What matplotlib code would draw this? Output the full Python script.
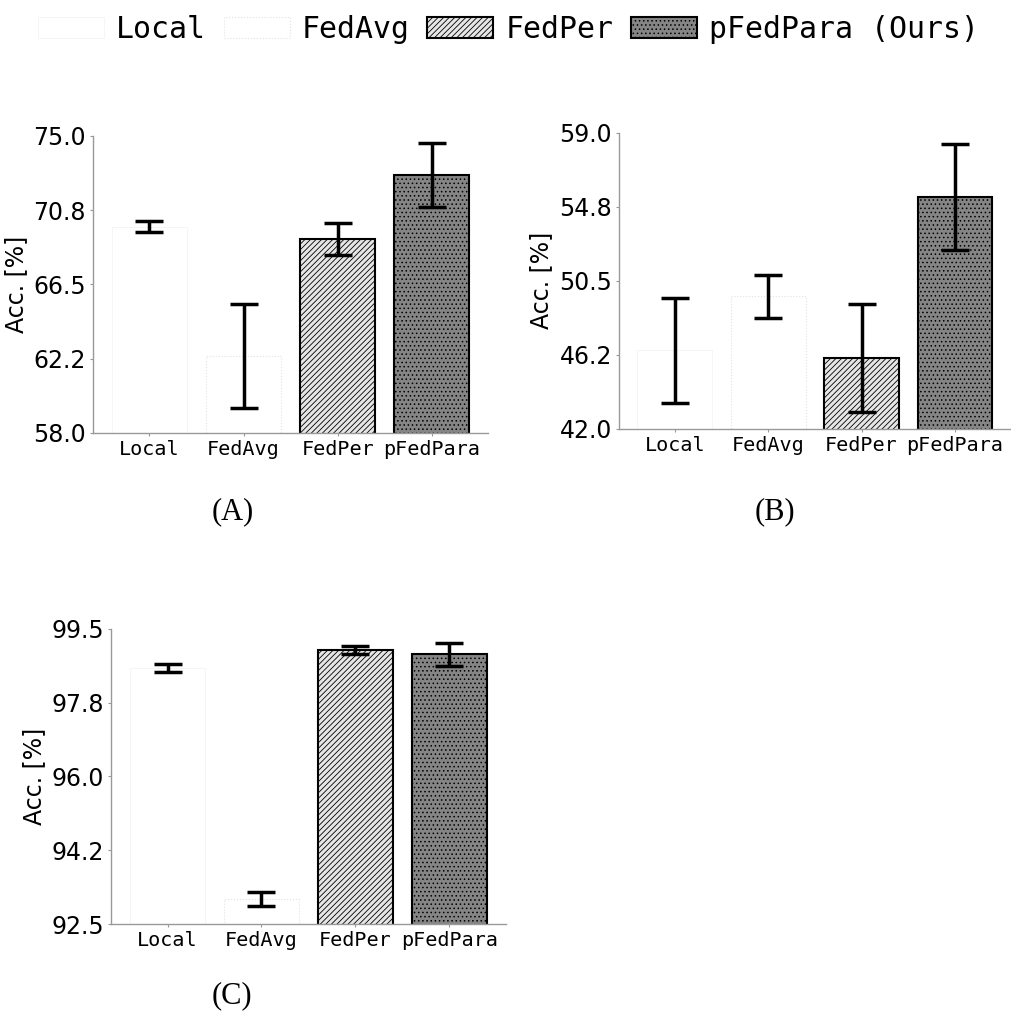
import matplotlib.pyplot as plt
from matplotlib.patches import Patch

# Datos
methods = ['Local', 'FedAvg', 'FedPer', 'pFedPara']
legend_labels = ['Local', 'FedAvg', 'FedPer', 'pFedPara (Ours)']

acc_a = [69.8, 62.4, 69.1, 72.75]
err_a = [0.3, 3.0, 0.9, 1.85]
acc_b = [46.5, 49.6, 46.05, 55.3]
err_b = [3.0, 1.25, 3.1, 3.05]
acc_c = [98.57, 93.1, 99.0, 98.9]
err_c = [0.1, 0.17, 0.1, 0.27]

ylim_a = (58.0, 75.0)
ylim_b = (42.0, 59.0)
ylim_c = (92.5, 99.5)

faces = ['white', 'white', '#e6e6e6', '#858585']
edges = ['#f4f4f4', '#e2e2e2', 'black', 'black']
hatches = ['', '', '//////', '....']
widths = [0.6, 0.8, 1.5, 1.5]
styles = ['-', ':', '-', '-']

plt.rcParams['hatch.linewidth'] = 0.6
plt.rcParams['hatch.color'] = '#555555'

fig = plt.figure(figsize=(10.11, 10.21), dpi=100)


def panel(rect, values, errors, ylim):
    ax = fig.add_axes(rect)
    x = range(len(methods))
    for i in x:
        ax.bar(i, values[i], width=0.8, color=faces[i], edgecolor=edges[i],
               hatch=hatches[i], linewidth=widths[i], linestyle=styles[i], zorder=2)
    ax.errorbar(list(x), values, yerr=errors, fmt='none', ecolor='black',
                elinewidth=2.5, capsize=10, capthick=2.5, zorder=3)
    ax.set_xlim(-0.6, 3.6)
    ax.set_ylim(*ylim)
    ticks = [ylim[0] + k * (ylim[1] - ylim[0]) / 4 for k in range(5)]
    ax.set_yticks(ticks)
    ax.set_yticklabels(['%.1f' % t for t in ticks], fontsize=17)
    ax.set_xticks(list(x))
    ax.set_xticklabels(methods, fontsize=14.5, family='DejaVu Sans Mono')
    ax.tick_params(length=2, color='#999999', pad=3)
    ax.set_ylabel('Acc. [%]', fontsize=17)
    for s in ['top', 'right']:
        ax.spines[s].set_visible(False)
    for s in ['left', 'bottom']:
        ax.spines[s].set_color('#999999')
        ax.spines[s].set_linewidth(1.0)
    return ax


panel([0.092, 0.576, 0.391, 0.291], acc_a, err_a, ylim_a)
panel([0.612, 0.580, 0.388, 0.290], acc_b, err_b, ylim_b)
panel([0.110, 0.095, 0.390, 0.289], acc_c, err_c, ylim_c)

fig.text(0.230, 0.499, '(A)', fontsize=22, family='Liberation Serif', ha='center', va='center')
fig.text(0.767, 0.499, '(B)', fontsize=22, family='Liberation Serif', ha='center', va='center')
fig.text(0.229, 0.025, '(C)', fontsize=22, family='Liberation Serif', ha='center', va='center')

# Leyenda común
handles = [Patch(facecolor=faces[i], edgecolor=edges[i], hatch=hatches[i],
                 linewidth=widths[i], linestyle=styles[i]) for i in range(4)]
fig.legend(handles, legend_labels, loc='upper center', bbox_to_anchor=(0.503, 1.012),
           ncol=4, frameon=False, prop={'family': 'DejaVu Sans Mono', 'size': 21.5},
           handlelength=2.2, columnspacing=0.6, handletextpad=0.4)

fig.savefig('out.png', dpi=100)
